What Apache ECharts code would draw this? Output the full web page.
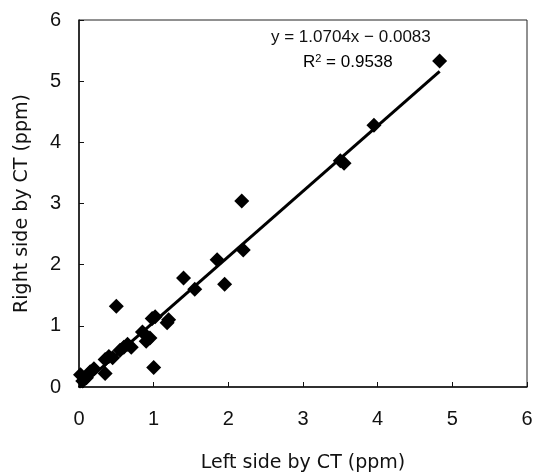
<!DOCTYPE html>
<html>
<head>
<meta charset="utf-8">
<script src="https://cdn.jsdelivr.net/npm/echarts@6/dist/echarts.min.js"></script>
<style>html,body{margin:0;padding:0;background:#fff;}#c{width:535px;height:472px;}</style>
</head>
<body>
<div id="c"></div>
<script>
const leftCT = [0.02,0.05,0.10,0.15,0.20,0.35,0.35,0.40,0.45,0.50,0.55,0.60,0.65,0.70,0.85,0.90,0.95,0.98,1.00,1.02,1.18,1.20,1.40,1.55,1.85,1.95,2.18,2.20,3.50,3.55,3.95,4.83];
const rightCT = [0.20,0.10,0.15,0.25,0.30,0.22,0.45,0.50,0.48,1.32,0.60,0.65,0.70,0.65,0.90,0.75,0.80,1.12,0.32,1.15,1.05,1.10,1.78,1.60,2.08,1.68,3.04,2.24,3.70,3.66,4.28,5.33];
const slope = 1.0704, intercept = -0.0083, r2 = 0.9538;
const fitRange = [0, 4.83];
const ticks = [0,1,2,3,4,5,6];

const pts = leftCT.map((x,i)=>[x, rightCT[i]]);
const fit = fitRange.map(x=>[x, slope*x+intercept]);
const chart = echarts.init(document.getElementById('c'));
const font = 'Liberation Sans, Arial, sans-serif';
chart.setOption({
  animation:false,
  backgroundColor:'#fff',
  grid:{left:79,right:8,top:20,bottom:85,containLabel:false,outerBoundsMode:'none',show:true,borderColor:'#222',borderWidth:1},
  xAxis:{type:'value',min:ticks[0],max:ticks[ticks.length-1],interval:1,
    name:'Left side by CT (ppm)',nameLocation:'middle',nameGap:67,
    nameTextStyle:{fontFamily:'DejaVu Sans',fontSize:19,color:'#111'},
    axisLine:{lineStyle:{color:'#111',width:1.5}},
    axisTick:{inside:true,length:5,lineStyle:{color:'#111'}},
    axisLabel:{margin:22,fontFamily:font,fontSize:20,color:'#111'},
    splitLine:{show:false}},
  yAxis:{type:'value',min:ticks[0],max:ticks[ticks.length-1],interval:1,
    name:'Right side by CT (ppm)',nameLocation:'middle',nameGap:47,
    nameTextStyle:{fontFamily:'DejaVu Sans',fontSize:19,color:'#111'},
    axisLine:{lineStyle:{color:'#111',width:1.5}},
    axisTick:{inside:true,length:5,lineStyle:{color:'#111'}},
    axisLabel:{margin:18,fontFamily:font,fontSize:20,color:'#111'},
    splitLine:{show:false}},
  graphic:[
    {type:'text',left:271,top:29,style:{text:'y = '+slope.toFixed(4)+'x − '+Math.abs(intercept).toFixed(4),font:'17px '+font,fill:'#111'}},
    {type:'text',left:303,top:53,style:{rich:{a:{fontSize:17,fontFamily:font,color:'#111'},s:{fontSize:11,fontFamily:font,color:'#111',verticalAlign:'top',padding:[0,0,8,0]}},text:'{a|R}{s|2}{a| = '+r2.toFixed(4)+'}'}}
  ],
  series:[
    {type:'line',data:fit,symbol:'none',lineStyle:{color:'#000',width:3},z:2},
    {type:'scatter',data:pts,symbol:'diamond',symbolSize:15,itemStyle:{color:'#000',opacity:1},z:3}
  ]
});
</script>
</body>
</html>
